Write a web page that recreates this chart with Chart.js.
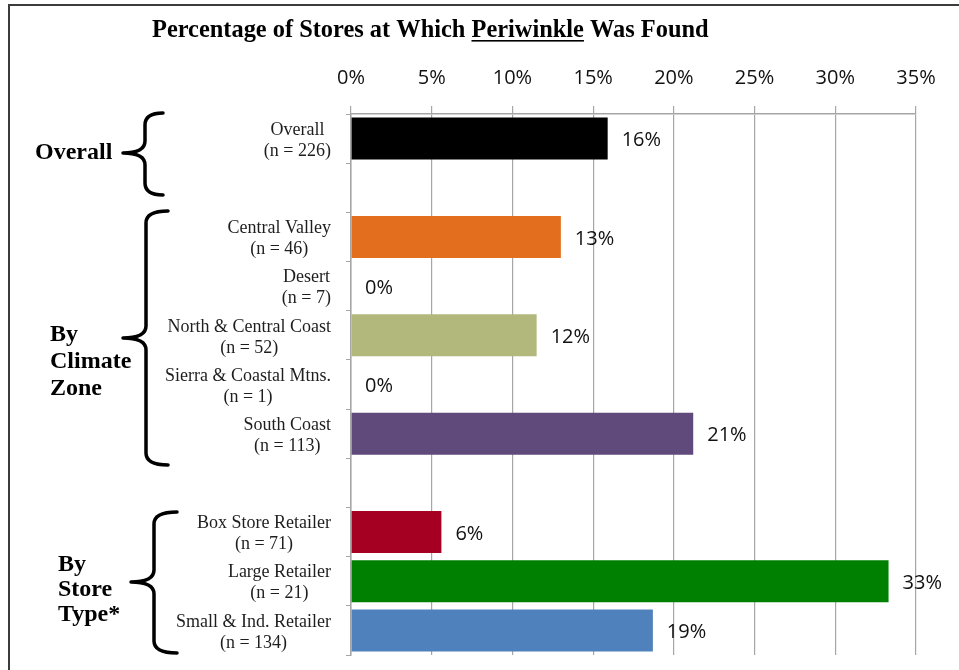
<!DOCTYPE html>
<html>
<head>
<meta charset="utf-8">
<script src="https://cdn.jsdelivr.net/npm/chart.js@4.4.1/dist/chart.umd.min.js"></script>
<style>
  html, body { margin: 0; padding: 0; background: #fff; }
  canvas { display: block; }
</style>
</head>
<body>
<canvas id="periwinkleChart" width="959" height="670"></canvas>
<script>
// rows from top to bottom, the empty rows keep the groups apart
const rowLabels = [
  ['Overall', '(n = 226)'],
  [],
  ['Central Valley', '(n = 46)'],
  ['Desert', '(n = 7)'],
  ['North & Central Coast', '(n = 52)'],
  ['Sierra & Coastal Mtns.', '(n = 1)'],
  ['South Coast', '(n = 113)'],
  [],
  ['Box Store Retailer', '(n = 71)'],
  ['Large Retailer', '(n = 21)'],
  ['Small & Ind. Retailer', '(n = 134)']
];
const pctFound = [15.9, null, 13.0, 0, 11.5, 0, 21.2, null, 5.6, 33.3, 18.7];
const barColors = ['#000000', null, '#e36f1e', '#e36f1e', '#b2b77b', '#b2b77b', '#604a7b', null, '#a50021', '#008000', '#4f81bd'];
const axisMax = 35;
const axisStep = 5;
const groupNames = [['Overall'], ['By', 'Climate', 'Zone'], ['By', 'Store', 'Type*']];

const titleParts = ['Percentage of Stores at Which ', 'Periwinkle', ' Was Found'];

// braces drawn next to each group name
const braces = [
  { x: 145, top: 113, bottom: 195, mid: 153, tip: 123, end: 163, textX: 35, textY: 153, lineGap: 27 },
  { x: 146, top: 211, bottom: 465, mid: 338, tip: 123, end: 168, textX: 50, textY: 362, lineGap: 27 },
  { x: 154, top: 512, bottom: 653, mid: 582, tip: 131, end: 177, textX: 58, textY: 590, lineGap: 25 }
];

function drawBrace(ctx, b) {
  const r = 12;
  ctx.beginPath();
  ctx.moveTo(b.end, b.top);
  ctx.quadraticCurveTo(b.x, b.top, b.x, b.top + r);
  ctx.lineTo(b.x, b.mid - r);
  ctx.quadraticCurveTo(b.x, b.mid, b.tip, b.mid);
  ctx.quadraticCurveTo(b.x, b.mid, b.x, b.mid + r);
  ctx.lineTo(b.x, b.bottom - r);
  ctx.quadraticCurveTo(b.x, b.bottom, b.end, b.bottom);
  ctx.stroke();
}

const decorations = {
  id: 'decorations',
  beforeDraw(chart) {
    const ctx = chart.ctx;
    ctx.save();
    ctx.fillStyle = '#fff';
    ctx.fillRect(0, 0, chart.width, chart.height);
    ctx.strokeStyle = '#3c3c3c';
    ctx.lineWidth = 2;
    ctx.strokeRect(9, 5, chart.width + 20, chart.height + 20);
    ctx.restore();
  },
  afterDraw(chart) {
    const ctx = chart.ctx;
    ctx.save();

    // title with the plant name underlined
    ctx.font = 'bold 24.4px "Liberation Serif"';
    ctx.fillStyle = '#000';
    ctx.textBaseline = 'alphabetic';
    ctx.textAlign = 'left';
    let x = 152;
    titleParts.forEach((part, i) => {
      const w = ctx.measureText(part).width;
      ctx.fillText(part, x, 37);
      if (i === 1) ctx.fillRect(x, 40, w, 1.6);
      x += w;
    });

    // category labels: lines centred on each other, block right aligned
    const yScale = chart.scales.y;
    ctx.font = '18px "Liberation Serif"';
    ctx.fillStyle = '#1e1e1e';
    ctx.textAlign = 'center';
    ctx.textBaseline = 'middle';
    const right = yScale.right - 20;
    rowLabels.forEach((lines, i) => {
      if (!lines.length) return;
      const blockW = Math.max(...lines.map(l => ctx.measureText(l).width));
      const cy = yScale.getPixelForValue(i) + 2;
      lines.forEach((l, k) => {
        ctx.fillText(l, right - blockW / 2, cy + (k - (lines.length - 1) / 2) * 21);
      });
    });

    // group names and braces
    ctx.font = 'bold 24px "Liberation Serif"';
    ctx.fillStyle = '#000';
    ctx.textAlign = 'left';
    ctx.strokeStyle = '#000';
    ctx.lineWidth = 3.5;
    ctx.lineCap = 'round';
    ctx.lineJoin = 'round';
    braces.forEach((b, g) => {
      const names = groupNames[g];
      names.forEach((n, k) => {
        ctx.fillText(n, b.textX, b.textY + (k - (names.length - 1) / 2) * b.lineGap);
      });
      drawBrace(ctx, b);
    });
    ctx.restore();
  },
  afterDatasetsDraw(chart) {
    const ctx = chart.ctx;
    const meta = chart.getDatasetMeta(0);
    ctx.save();
    ctx.font = '20px "Open Sans"';
    ctx.fillStyle = '#111';
    ctx.textAlign = 'left';
    ctx.textBaseline = 'middle';
    meta.data.forEach((bar, i) => {
      const v = pctFound[i];
      if (v === null) return;
      ctx.fillText(Math.round(v) + '%', bar.x + 14, bar.y + 2);
    });
    ctx.restore();
  }
};

new Chart(document.getElementById('periwinkleChart').getContext('2d'), {
  type: 'bar',
  data: {
    labels: rowLabels.map(l => l.join(' ')),
    datasets: [{
      data: pctFound,
      backgroundColor: barColors,
      borderWidth: 0,
      categoryPercentage: 1,
      barPercentage: 0.855
    }]
  },
  options: {
    indexAxis: 'y',
    responsive: false,
    animation: false,
    layout: { padding: { left: 345, right: 43, top: 0, bottom: 15 } },
    plugins: {
      legend: { display: false },
      tooltip: { enabled: false }
    },
    scales: {
      x: {
        position: 'top',
        min: 0,
        max: axisMax,
        afterFit(scale) { scale.height = 114; },
        ticks: {
          stepSize: axisStep,
          padding: 16,
          color: '#111',
          font: { family: 'Open Sans', size: 20 },
          callback: v => v + '%'
        },
        grid: { color: '#a6a6a6', lineWidth: 1.2, tickLength: 8 },
        border: { color: '#a6a6a6', width: 1.5 }
      },
      y: {
        afterFit(scale) { scale.width = 6; },
        ticks: { display: false },
        grid: { drawOnChartArea: false, drawTicks: true, tickLength: 5, color: '#a6a6a6', offset: true },
        border: { color: '#a6a6a6', width: 1.5 }
      }
    }
  },
  plugins: [decorations]
});
</script>
</body>
</html>
